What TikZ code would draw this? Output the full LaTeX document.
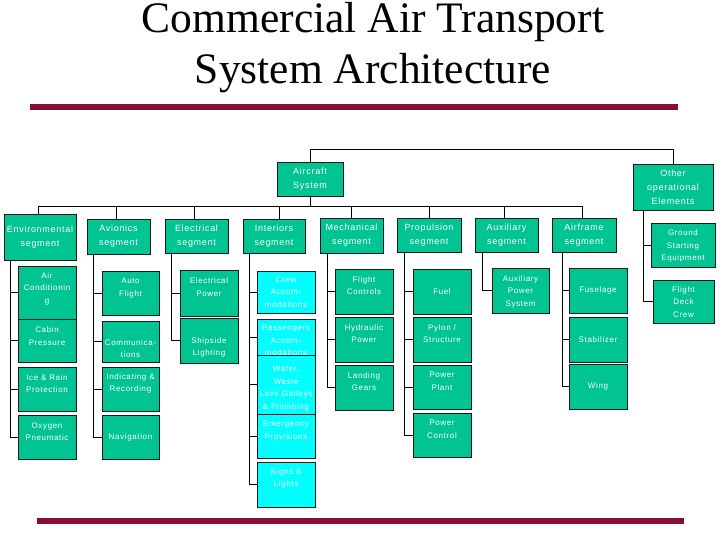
\documentclass[tikz,border=0pt]{standalone}
\usepackage{fontspec}
\setmainfont{Liberation Serif}
\newfontfamily\bxfont[LetterSpace=8]{Liberation Sans}
\definecolor{boxgreen}{RGB}{0,196,146}
\definecolor{boxcyan}{RGB}{0,255,255}
\definecolor{barred}{RGB}{136,14,56}
\tikzset{
  base/.style={draw=black!90, line width=0.8pt, inner sep=0pt, outer sep=0pt},
  seg/.style={base, fill=boxgreen},
  sub/.style={base, fill=boxgreen},
  cyb/.style={base, fill=boxcyan},
  txtseg/.style={text=white, inner sep=0pt, align=center, font=\bxfont\fontsize{9}{14}\selectfont},
  txtsub/.style={text=white, inner sep=0pt, align=center, font=\bxfont\fontsize{8}{12.5}\selectfont},
  txtcyb/.style={text=white, inner sep=0pt, align=center, font=\bxfont\fontsize{8}{12.5}\selectfont},
  con/.style={draw=black, line width=1pt},
  titletxt/.style={inner sep=0pt, anchor=base, text height=29pt, font=\fontsize{43.5}{51}\selectfont}
}
% #1 style, #2 name, #3 x1, #4 y1, #5 x2, #6 y2, #7 text shift down, #8 text
\newcommand\bx[8]{%
  \node[#1, minimum width={(#5-#3)*1pt}, minimum height={(#6-#4)*1pt}] (#2) at ({(#3+#5)/2},{(#4+#6)/2}) {};
  \node[txt#1] (#2-t) at ([yshift={-(#7)*1pt}]#2.center) {#8};}
\begin{document}
\begin{tikzpicture}[x=1pt,y=-1pt]
\useasboundingbox (0,0) rectangle (720,540);
% title
\node[titletxt] (title1) at (373,33) {Commercial Air Transport};
\node[titletxt] (title2) at (373,84) {System Architecture};
\fill[barred] (30,104) rectangle (678,110);
\fill[barred] (37,518) rectangle (684,524);
% top level
\bx{seg}{air}{277}{162}{343}{196}{0}{Aircraft\\System}
\bx{seg}{oth}{633}{164}{713}{210}{0}{Other\\operational\\Elements}
% segments
\bx{seg}{env}{4}{214}{76}{260}{0}{Environmental\\segment}
\bx{seg}{avi}{87}{219}{150}{254}{0}{Avionics\\segment}
\bx{seg}{ele}{165}{219}{228}{253}{0}{Electrical\\segment}
\bx{seg}{int}{243}{219}{305}{253}{0}{Interiors\\segment}
\bx{seg}{mec}{320}{218}{383}{253}{0}{Mechanical\\segment}
\bx{seg}{pro}{397}{218}{461}{252}{0}{Propulsion\\segment}
\bx{seg}{aux}{475}{218}{538}{252}{0}{Auxiliary\\segment}
\bx{seg}{afr}{552}{218}{616}{252}{0}{Airframe\\segment}
% environmental
\bx{sub}{ac}{18}{266}{76}{319}{-4}{Air\\Conditionin\\g}
\bx{sub}{cab}{18}{319}{76}{362}{-4.5}{Cabin\\Pressure}
\bx{sub}{ice}{18}{367}{76}{411}{-5.5}{Ice \& Rain\\Protection}
\bx{sub}{oxy}{18}{415}{76}{459}{-5.5}{Oxygen\\Pneumatic}
% avionics
\bx{sub}{auto}{102}{271}{159}{315}{-5}{Auto\\Flight}
\bx{sub}{com}{102}{321}{159}{362}{7}{Communica-\\tions}
\bx{sub}{ind}{102}{367}{159}{411}{-5.5}{Indicating \&\\Recording}
\bx{sub}{nav}{102}{415}{159}{459}{0}{Navigation}
% electrical
\bx{sub}{epw}{180}{270}{238}{316}{-6}{Electrical\\Power}
\bx{sub}{shl}{180}{318}{238}{363}{7}{Shipside\\Lighting}
% interiors
\bx{cyb}{crew}{257}{271}{315}{313}{0}{Crew\\Accom-\\modations}
\bx{cyb}{pas}{257}{319}{315}{355}{3.5}{Passengers\\Accom-\\modations}
\bx{cyb}{wat}{257}{355}{315}{414}{4}{Water,\\Waste\\Lavs,Galleys\\\& Plumbing}
\bx{cyb}{emg}{257}{414}{315}{458}{-5.5}{Emergency\\Provisions}
\bx{cyb}{sig}{257}{462}{315}{507}{-6}{Signs \&\\Lights}
% mechanical
\bx{sub}{flc}{335}{269}{393}{314}{-6}{Flight\\Controls}
\bx{sub}{hyd}{335}{317}{393}{362}{-6}{Hydraulic\\Power}
\bx{sub}{lgr}{335}{365}{393}{410}{-6}{Landing\\Gears}
% propulsion
\bx{sub}{fuel}{413}{269}{471}{314}{0}{Fuel}
\bx{sub}{pyl}{413}{317}{471}{362}{-6}{Pylon /\\Structure}
\bx{sub}{ppl}{413}{365}{471}{409}{-5.5}{Power\\Plant}
\bx{sub}{pct}{413}{413}{471}{457}{-5.5}{Power\\Control}
% auxiliary
\bx{sub}{aps}{492}{268}{549}{313}{1}{Auxiliary\\Power\\System}
% airframe
\bx{sub}{fus}{569}{268}{627}{313}{0}{Fuselage}
\bx{sub}{stb}{569}{317}{627}{362}{0}{Stabilizer}
\bx{sub}{wng}{569}{364}{627}{409}{0}{Wing}
% other
\bx{sub}{gse}{651}{223}{715}{267}{1}{Ground\\Starting\\Equipment}
\bx{sub}{fdc}{653}{280}{714}{323}{0.5}{Flight\\Deck\\Crew}
% connectors top
\draw[con] (air.north) -- ++(0,-12) -| (oth.north);
\draw[con] (air.south) -- ++(0,11) -| ([xshift=-2pt]env.north);
\draw[con] (air.south) -- ++(0,11) -| ([xshift=-2.5pt]avi.north);
\draw[con] (air.south) -- ++(0,11) -| ([xshift=-2.5pt]ele.north);
\draw[con] (air.south) -- ++(0,11) -| ([xshift=5pt]int.north);
\draw[con] (air.south) -- ++(0,11) -| (mec.north);
\draw[con] (air.south) -- ++(0,11) -| (pro.north);
\draw[con] (air.south) -- ++(0,11) -| ([xshift=-2.5pt]aux.north);
\draw[con] (air.south) -- ++(0,11) -| ([xshift=-2pt]afr.north);
% children
\foreach \c in {ac,cab,ice,oxy} \draw[con] ([xshift=6pt]env.south west) |- (\c.west);
\foreach \c in {auto,com,ind,nav} \draw[con] ([xshift=6pt]avi.south west) |- (\c.west);
\foreach \c in {epw,shl} \draw[con] ([xshift=6pt]ele.south west) |- (\c.west);
\foreach \c in {crew,pas,wat,emg,sig} \draw[con] ([xshift=6pt]int.south west) |- (\c.west);
\foreach \c in {flc,hyd,lgr} \draw[con] ([xshift=7pt]mec.south west) |- (\c.west);
\foreach \c in {fuel,pyl,ppl,pct} \draw[con] ([xshift=7pt]pro.south west) |- (\c.west);
\foreach \c in {aps} \draw[con] ([xshift=7pt]aux.south west) |- (\c.west);
\foreach \c in {fus,stb,wng} \draw[con] ([xshift=10pt]afr.south west) |- (\c.west);
\foreach \c in {gse,fdc} \draw[con] ([xshift=10pt]oth.south west) |- (\c.west);
\end{tikzpicture}
\end{document}
